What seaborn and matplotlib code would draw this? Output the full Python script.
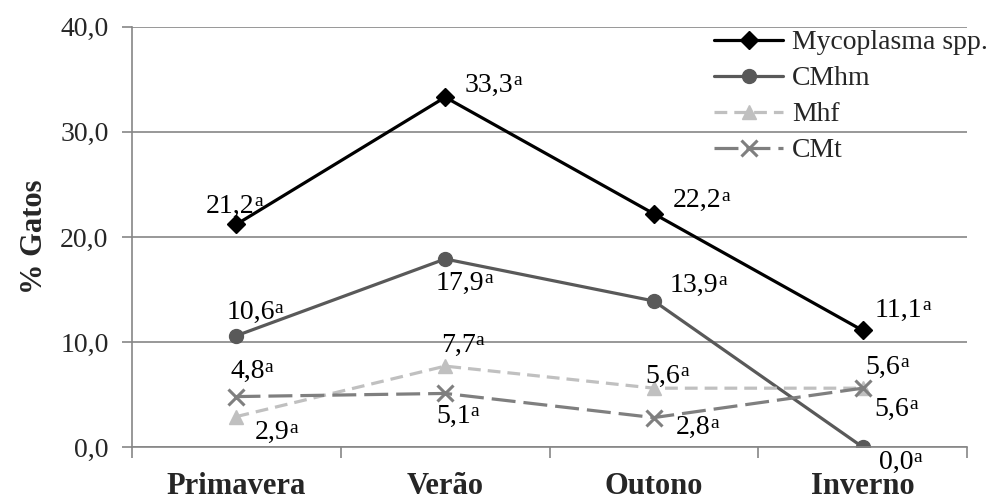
import numpy as np
import pandas as pd
import seaborn as sns
import matplotlib.pyplot as plt

estacoes = ["Primavera", "Verão", "Outono", "Inverno"]
mycoplasma = [21.2, 33.3, 22.2, 11.1]
cmhm = [10.6, 17.9, 13.9, 0.0]
mhf = [2.9, 7.7, 5.6, 5.6]
cmt = [4.8, 5.1, 2.8, 5.6]
series = ["Mycoplasma spp.", "CMhm", "Mhf", "CMt"]
yticks = [0, 10, 20, 30, 40]

sns.set_theme(style="white")
plt.rcParams["font.family"] = ["Liberation Serif", "DejaVu Serif"]

df = pd.DataFrame({
    "estacao": estacoes * 4,
    "valor": mycoplasma + cmhm + mhf + cmt,
    "serie": np.repeat(series, 4),
})

colors = {"Mycoplasma spp.": "#000000", "CMhm": "#595959", "Mhf": "#c0c0c0", "CMt": "#7f7f7f"}
markers = {"Mycoplasma spp.": "D", "CMhm": "o", "Mhf": "^", "CMt": "x"}
dashes = {"Mycoplasma spp.": "", "CMhm": "", "Mhf": (4, 2.2), "CMt": (7.5, 2.5)}
# label offsets in pixels (dx, dy) of the number (without superscript)
offsets = {
    "Mycoplasma spp.": [(-6, 18), (44, 12), (43, 13), (36, 20)],
    "CMhm": [(14, 23), (15, -24), (40, 16), (34, -15)],
    "Mhf": [(36, -16), (13, 21), (9, 12), (20, 21)],
    "CMt": [(11, 25), (8, -23), (39, -10), (29, -21)],
}

fig = plt.figure(figsize=(10.01, 4.97), dpi=100)
ax = fig.add_axes([0.132, 0.1006, 0.834, 0.8454])

for s in series:
    sub = df[df.serie == s]
    ms = {"Mycoplasma spp.": 9, "CMhm": 10, "Mhf": 10, "CMt": 11}[s]
    sns.lineplot(data=sub, x="estacao", y="valor", ax=ax, color=colors[s],
                 marker=markers[s], markersize=ms, linewidth=2.3, label=s,
                 markeredgecolor=colors[s], markeredgewidth=2.2 if s == "CMt" else 1)
    line = ax.get_lines()[-1]
    if dashes[s]:
        line.set_dashes(dashes[s])
    for i, v in enumerate(sub.valor):
        dx, dy = offsets[s][i]
        t = ax.annotate(("%.1f" % v).replace(".", ","), (i, v), xytext=(dx * 0.72, dy * 0.72),
                        textcoords="offset points", ha="center", va="center", fontsize=20, color="black")
        ax.annotate("a", xy=(1, 0.5), xycoords=t, ha="left", va="baseline", fontsize=14, color="black")

ax.set_xlim(-0.5, 3.5)
ax.set_ylim(0, 40)
ax.set_yticks(yticks)
ax.set_yticklabels([("%.1f" % t).replace(".", ",") for t in yticks], fontsize=20)
ax.set_xticks(range(4))
ax.set_xticklabels(estacoes, fontsize=22, fontweight="bold")
ax.set_xticks(np.arange(-0.5, 4, 1), minor=True)
ax.tick_params(axis="x", which="major", length=0, pad=18)
ax.tick_params(axis="x", which="minor", length=8, color="#868686", width=1.2, direction="out", bottom=True)
ax.tick_params(axis="y", length=7, color="#868686", width=1.2, direction="out", left=True, pad=10)
ax.yaxis.grid(True, color="#868686", linewidth=1.2)
ax.set_axisbelow(True)
for sp in ["top", "right"]:
    ax.spines[sp].set_visible(False)
for sp in ["left", "bottom"]:
    ax.spines[sp].set_color("#868686")
    ax.spines[sp].set_linewidth(1.2)
ax.set_xlabel("")
ax.set_ylabel("% Gatos", fontsize=22, fontweight="bold", labelpad=8)

ax.legend(loc="upper left", bbox_to_anchor=(714 / 1001, 1 - 30 / 497), bbox_transform=fig.transFigure,
          frameon=False, fontsize=20, handlelength=2.5, labelspacing=0.38, handletextpad=0.3,
          borderaxespad=0, borderpad=0)

fig.savefig("out.png", dpi=100)
